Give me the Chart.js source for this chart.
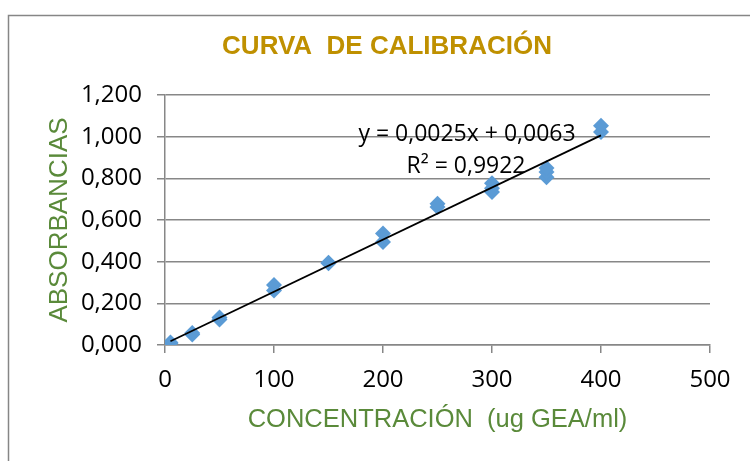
<!DOCTYPE html>
<html>
<head>
<meta charset="utf-8">
<script src="https://cdn.jsdelivr.net/npm/chart.js@4.4.1/dist/chart.umd.min.js"></script>
<style>
  body { margin: 0; background: #fff; }
  #wrap { position: relative; width: 750px; height: 461px; }
</style>
</head>
<body>
<div id="wrap"><canvas id="calChart" width="750" height="461"></canvas></div>
<script>
// Data
const concentrations = [5, 5, 25, 25, 50, 50, 100, 100, 150, 150, 200, 200, 250, 250, 300, 300, 300, 350, 350, 350, 400, 400];
const absorbances = [0.009, 0.012, 0.050, 0.058, 0.122, 0.132, 0.262, 0.288, 0.392, 0.395, 0.495, 0.535, 0.662, 0.678, 0.735, 0.752, 0.777, 0.805, 0.830, 0.850, 1.022, 1.052];

// Trendline ends as drawn
const trendX = [5, 400];
const trendY = [0.018, 1.006];

const xTickLabels = ["0", "100", "200", "300", "400", "500"];
const yTickLabels = ["0,000", "0,200", "0,400", "0,600", "0,800", "1,000", "1,200"];

const chartTitle = "CURVA  DE CALIBRACIÓN";
const equationText = "y = 0,0025x + 0,0063";
const r2Text = "R\u00B2 = 0,9922";

const gridGray = "#878787";
const titleGreen = "#5a8a3a";

const points = concentrations.map((c, i) => ({ x: c, y: absorbances[i] }));
const trend = trendX.map((x, i) => ({ x: x, y: trendY[i] }));

// frame, title and equation labels
const framePlugin = {
  id: "frame",
  beforeDraw(chart) {
    const ctx = chart.ctx;
    ctx.save();
    ctx.fillStyle = "#fff";
    ctx.fillRect(0, 0, chart.width, chart.height);
    ctx.strokeStyle = "#868686";
    ctx.lineWidth = 1.5;
    ctx.strokeRect(8.5, 15.5, 800, 500);
    ctx.fillStyle = "#bf9000";
    ctx.font = "bold 26px 'Liberation Sans', Arial, sans-serif";
    ctx.textAlign = "center";
    ctx.textBaseline = "middle";
    ctx.fillText(chartTitle, 387, 47);
    ctx.restore();
  },
  afterDatasetsDraw(chart) {
    const ctx = chart.ctx;
    ctx.save();
    ctx.fillStyle = "#000";
    ctx.font = "23px 'Open Sans'";
    ctx.textAlign = "center";
    ctx.textBaseline = "middle";
    ctx.fillText(equationText, 467, 134);
    ctx.fillText(r2Text, 466, 166);
    ctx.restore();
  },
};

new Chart(document.getElementById("calChart").getContext("2d"), {
  type: "scatter",
  data: {
    datasets: [
      {
        label: "Tendencia",
        data: trend,
        showLine: true,
        borderColor: "#000",
        borderWidth: 1.8,
        pointRadius: 0,
        order: 0,
      },
      {
        label: "Absorbancia",
        data: points,
        pointStyle: "rectRot",
        pointRadius: 8,
        pointBorderWidth: 0,
        backgroundColor: "#5b9bd5",
        borderColor: "#5b9bd5",
        order: 1,
      },
    ],
  },
  options: {
    responsive: false,
    animation: false,
    devicePixelRatio: 1,
    layout: { padding: { left: 0, right: 40, top: 95, bottom: 0 } },
    plugins: {
      legend: { display: false },
      tooltip: { enabled: false },
      title: { display: false },
    },
    scales: {
      x: {
        type: "linear",
        min: 0,
        max: 500,
        afterFit(scale) { scale.height = 116; },
        ticks: {
          stepSize: 100,
          padding: 13,
          color: "#000",
          font: { family: "'Open Sans', sans-serif", size: 24 },
          callback: (v, i) => xTickLabels[i],
        },
        grid: { drawOnChartArea: false, drawTicks: true, tickLength: 8, color: gridGray, lineWidth: 1.5 },
        border: { display: true, color: gridGray, width: 1.5 },
        title: {
          display: true,
          text: "CONCENTRACIÓN  (ug GEA/ml)",
          color: titleGreen,
          font: { family: "'Liberation Sans', Arial, sans-serif", size: 25.5, lineHeight: 1.2 },
          padding: { top: 0, bottom: 26 },
        },
      },
      y: {
        type: "linear",
        min: 0,
        max: 1.2,
        afterFit(scale) { scale.width = 165; },
        ticks: {
          stepSize: 0.2,
          padding: 15,
          color: "#000",
          font: { family: "'Open Sans', sans-serif", size: 24 },
          callback: (v, i) => yTickLabels[i],
        },
        grid: { drawTicks: true, tickLength: 8, color: gridGray, lineWidth: 1.5 },
        border: { display: true, color: gridGray, width: 1.5 },
        title: {
          display: true,
          text: "ABSORBANCIAS",
          color: titleGreen,
          font: { family: "'Liberation Sans', Arial, sans-serif", size: 26, lineHeight: 1.2 },
          padding: { top: 44, bottom: 0 },
        },
      },
    },
  },
  plugins: [framePlugin],
});
</script>
</body>
</html>
